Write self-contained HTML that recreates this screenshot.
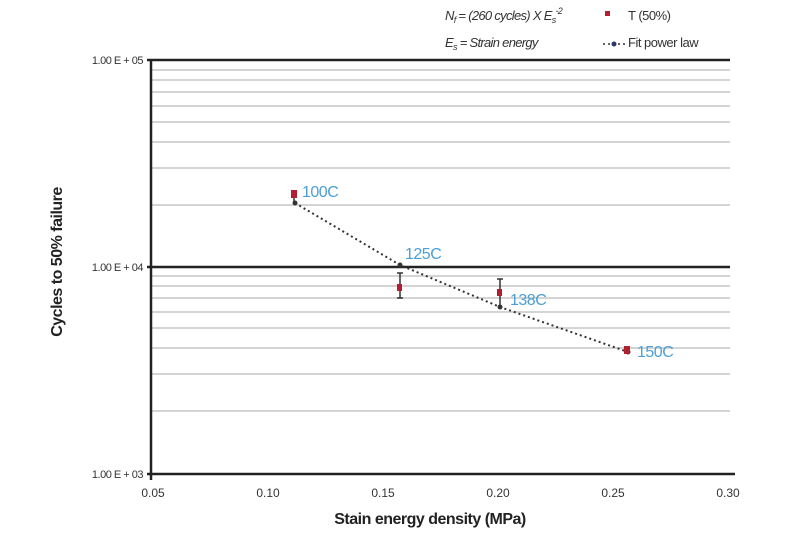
<!DOCTYPE html>
<html><head><meta charset="utf-8"><style>
html,body{margin:0;padding:0;background:#fff;}
svg{display:block;}
text{font-family:"Liberation Sans",sans-serif;}
</style></head><body>
<svg width="800" height="533" viewBox="0 0 800 533" xmlns="http://www.w3.org/2000/svg">
<g stroke="#d4d4d4" stroke-width="2">
<line x1="152" x2="730" y1="70" y2="70"/><line x1="152" x2="730" y1="80" y2="80"/>
<line x1="152" x2="730" y1="92" y2="92"/><line x1="152" x2="730" y1="106" y2="106"/>
<line x1="152" x2="730" y1="122" y2="122"/><line x1="152" x2="730" y1="142" y2="142"/>
<line x1="152" x2="730" y1="168" y2="168"/><line x1="152" x2="730" y1="205" y2="205"/>
<line x1="152" x2="730" y1="276" y2="276"/><line x1="152" x2="730" y1="286" y2="286"/>
<line x1="152" x2="730" y1="298" y2="298"/><line x1="152" x2="730" y1="312" y2="312"/>
<line x1="152" x2="730" y1="328" y2="328"/><line x1="152" x2="730" y1="348" y2="348"/>
<line x1="152" x2="730" y1="374" y2="374"/><line x1="152" x2="730" y1="411" y2="411"/>
</g>
<g stroke="#222" stroke-width="2.5">
<line x1="147" x2="730" y1="60" y2="60"/>
<line x1="147" x2="730" y1="267" y2="267"/>
<line x1="147" x2="735" y1="474" y2="474"/>
<line x1="151" x2="151" y1="60" y2="480"/>
</g>
<g font-size="11" fill="#333" text-anchor="end" letter-spacing="-0.5">
<text x="143" y="64">1.00 E + 05</text>
<text x="143" y="271">1.00 E + 04</text>
<text x="143" y="478">1.00 E + 03</text>
</g>
<g font-size="12" fill="#333" text-anchor="middle">
<text x="153" y="497">0.05</text><text x="268" y="497">0.10</text>
<text x="383" y="497">0.15</text><text x="498" y="497">0.20</text>
<text x="613" y="497">0.25</text><text x="728" y="497">0.30</text>
</g>
<text x="430" y="524" font-size="16" font-weight="bold" text-anchor="middle" fill="#222" letter-spacing="-0.5">Stain energy density (MPa)</text>
<text transform="translate(62,262) rotate(-90)" font-size="16" font-weight="bold" text-anchor="middle" fill="#222" letter-spacing="-0.5">Cycles to 50% failure</text>
<polyline points="295,203 400,265 500,307 628,352" fill="none" stroke="#333" stroke-width="2" stroke-dasharray="2,3"/>
<g fill="#333"><circle cx="295" cy="203" r="2.5"/><circle cx="400" cy="265" r="2.5"/><circle cx="500" cy="307" r="2.5"/><circle cx="628" cy="352" r="2.5"/></g>
<g stroke="#333" stroke-width="1.5">
<line x1="294" y1="190" x2="294" y2="203"/>
<line x1="400" y1="273" x2="400" y2="298"/><line x1="397" y1="273" x2="403" y2="273"/><line x1="397" y1="298" x2="403" y2="298"/>
<line x1="500" y1="279" x2="500" y2="308"/><line x1="497" y1="279" x2="503" y2="279"/>
</g>
<g fill="#b02030"><rect x="291" y="190" width="6" height="8"/><rect x="397" y="284" width="5" height="7"/><rect x="497" y="289" width="5" height="7"/><rect x="624" y="346" width="6" height="8"/></g>
<g font-size="16" fill="#4a9fd6" letter-spacing="-0.5">
<text x="302" y="197">100C</text><text x="405" y="259">125C</text>
<text x="510" y="305">138C</text><text x="637" y="357">150C</text>
</g>
<g font-size="13" fill="#333" font-style="italic" letter-spacing="-0.7">
<text x="445" y="20">N<tspan font-size="9" dy="3">f</tspan><tspan dy="-3"> = (260 cycles) X E</tspan><tspan font-size="9" dy="3">s</tspan><tspan font-size="9" dy="-9">-2</tspan></text>
<text x="445" y="47">E<tspan font-size="9" dy="3">s</tspan><tspan dy="-3"> = Strain energy</tspan></text>
</g>
<rect x="605" y="11" width="5" height="5" fill="#b02030"/>
<text x="628" y="20" font-size="13" fill="#333" letter-spacing="-0.5">T (50%)</text>
<line x1="603" y1="44" x2="625" y2="44" stroke="#333" stroke-width="1.5" stroke-dasharray="2,3"/>
<circle cx="614" cy="44" r="2.5" fill="#2a3a6a"/>
<text x="628" y="47" font-size="13" fill="#333" letter-spacing="-0.5">Fit power law</text>
</svg>
</body></html>
